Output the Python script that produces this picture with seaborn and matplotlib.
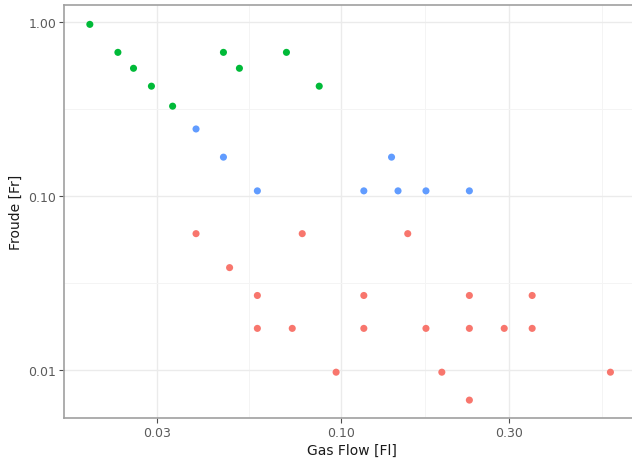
"""Froude number vs gas flow, log-log scatter in ggplot-like style."""
import matplotlib

matplotlib.use("Agg")
import matplotlib.pyplot as plt
import matplotlib.ticker as mticker
import pandas as pd
import seaborn as sns

# (three regimes, coloured by group).
green_flow = [0.0194, 0.0233, 0.0258, 0.0290, 0.0333, 0.0464, 0.0515, 0.0700, 0.0867]
green_froude = [0.975, 0.673, 0.545, 0.430, 0.330, 0.673, 0.545, 0.673, 0.430]

blue_flow = [0.0388, 0.0464, 0.0579, 0.116, 0.139, 0.145, 0.174, 0.231]
blue_froude = [0.244, 0.168, 0.1075, 0.1075, 0.168, 0.1075, 0.1075, 0.1075]

red_flow = [0.0388, 0.0776, 0.1545, 0.0483, 0.0579, 0.0579, 0.0727, 0.116, 0.116,
            0.0968, 0.174, 0.193, 0.231, 0.231, 0.231, 0.290, 0.348, 0.348, 0.580]
red_froude = [0.061, 0.061, 0.061, 0.0389, 0.0269, 0.0174, 0.0174, 0.0269, 0.0174,
              0.00974, 0.0174, 0.00974, 0.0269, 0.0174, 0.00673, 0.0174, 0.0269,
              0.0174, 0.00974]

groups = ["A", "B", "C"]
palette = {"A": "#F8766D", "B": "#00BA38", "C": "#619CFF"}

df = pd.concat([
    pd.DataFrame({"flow": red_flow, "froude": red_froude, "group": "A"}),
    pd.DataFrame({"flow": green_flow, "froude": green_froude, "group": "B"}),
    pd.DataFrame({"flow": blue_flow, "froude": blue_froude, "group": "C"}),
])

sns.set_theme(style="white")
plt.rcParams["font.family"] = ["DejaVu Sans"]

fig = plt.figure(figsize=(6.32, 4.6), dpi=100)
# panel runs past the right edge of the image, as in the reference
ax = fig.add_axes([64 / 632, 41 / 460, (640 - 64) / 632, 413 / 460])

sns.scatterplot(
    data=df, x="flow", y="froude", hue="group", hue_order=groups,
    palette=palette, s=26, linewidth=0, legend=False, ax=ax, zorder=3,
)

ax.set_xscale("log")
ax.set_yscale("log")
ax.set_xlim(0.01639, 0.7035)
ax.set_ylim(0.00531, 1.26)

ax.xaxis.set_major_locator(mticker.FixedLocator([0.03, 0.1, 0.3]))
ax.xaxis.set_major_formatter(mticker.FixedFormatter(["0.03", "0.10", "0.30"]))
ax.xaxis.set_minor_locator(mticker.FixedLocator([0.0548, 0.1732, 0.5477]))
ax.yaxis.set_major_locator(mticker.FixedLocator([0.01, 0.1, 1.0]))
ax.yaxis.set_major_formatter(mticker.FixedFormatter(["0.01", "0.10", "1.00"]))
ax.yaxis.set_minor_locator(mticker.FixedLocator([0.0316, 0.316]))
ax.xaxis.set_minor_formatter(mticker.NullFormatter())
ax.yaxis.set_minor_formatter(mticker.NullFormatter())

ax.grid(True, which="major", color="#EBEBEB", linewidth=1.0, zorder=0)
ax.grid(True, which="minor", color="#F4F4F4", linewidth=0.7, zorder=0)
ax.set_axisbelow(True)

for spine in ax.spines.values():
    spine.set_color("#A0A0A0")
    spine.set_linewidth(1.2)

ax.tick_params(axis="both", which="major", length=3.5, width=0.8, color="#4D4D4D",
               labelcolor="#5A5A5A", labelsize=9, left=True, bottom=True, pad=2)
ax.tick_params(axis="both", which="minor", length=0)

ax.set_xlabel("Gas Flow [Fl]", fontsize=10, color="#1A1A1A", labelpad=3)
ax.set_ylabel("Froude [Fr]", fontsize=10, color="#1A1A1A", labelpad=4)

fig.savefig("out.png", dpi=100)
plt.close(fig)
